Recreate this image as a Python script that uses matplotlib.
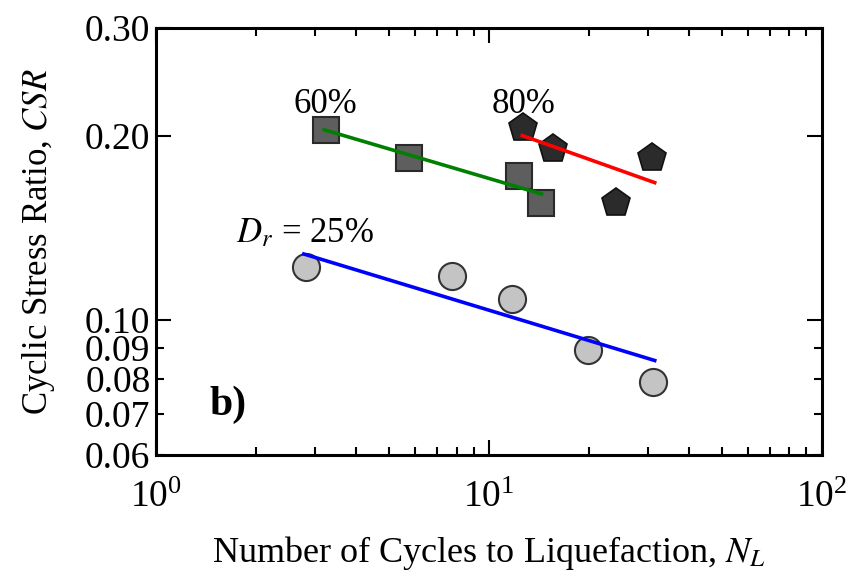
#!/usr/bin/env python3
# Cyclic stress ratio vs number of cycles to liquefaction (log-log)

import matplotlib
matplotlib.use("Agg")
import matplotlib.pyplot as plt
from matplotlib.ticker import FixedLocator, FixedFormatter, NullFormatter

plt.rcParams['font.family'] = ['Liberation Serif', 'DejaVu Serif']
plt.rcParams['mathtext.fontset'] = 'stix'

# Data: Dr = 25 %, 60 %, 80 %
n_25 = [2.82, 7.76, 11.7, 19.9, 31.2]
csr_25 = [0.122, 0.118, 0.108, 0.089, 0.079]
n_60 = [3.25, 5.74, 12.3, 14.3]
csr_60 = [0.204, 0.184, 0.172, 0.155]
n_80 = [12.7, 15.6, 24.1, 31.0]
csr_80 = [0.206, 0.190, 0.155, 0.184]

# trend line end points
fit_25_n = [2.78, 31.5]
fit_25_csr = [0.128, 0.0857]
fit_60_n = [3.20, 14.4]
fit_60_csr = [0.2044, 0.1605]
fit_80_n = [12.6, 31.5]
fit_80_csr = [0.200, 0.1675]

y_major = [0.10, 0.20, 0.30]
y_major_labels = ["0.10", "0.20", "0.30"]
y_minor = [0.06, 0.07, 0.08, 0.09]
y_minor_labels = ["0.06", "0.07", "0.08", "0.09"]

fig = plt.figure(figsize=(8.48, 5.82), dpi=100)
ax = fig.add_axes([0.184, 0.218, 0.785, 0.734])

ax.plot(fit_60_n, fit_60_csr, color='green', lw=2.6, zorder=3)
ax.plot(fit_80_n, fit_80_csr, color='red', lw=2.6, zorder=3)
ax.plot(fit_25_n, fit_25_csr, color='blue', lw=2.6, zorder=3)

ax.plot(n_60, csr_60, 's', ms=19, mfc='#5e5e5e', mec='#2a2a2a', mew=1.5, zorder=2)
ax.plot(n_80, csr_80, 'p', ms=21, mfc='#2b2b2b', mec='#111111', mew=1.2, zorder=2)
ax.plot(n_25, csr_25, 'o', ms=19.5, mfc='#c4c4c4', mec='#333333', mew=1.5, zorder=2)

ax.set_xscale('log')
ax.set_yscale('log')
ax.set_xlim(1, 100)
ax.set_ylim(0.06, 0.30)

ax.yaxis.set_major_locator(FixedLocator(y_major))
ax.yaxis.set_major_formatter(FixedFormatter(y_major_labels))
ax.yaxis.set_minor_locator(FixedLocator(y_minor))
ax.yaxis.set_minor_formatter(FixedFormatter(y_minor_labels))
ax.xaxis.set_minor_formatter(NullFormatter())

ax.tick_params(which='both', direction='in', top=True, right=True, labelsize=27, width=1.5)
ax.tick_params(which='major', length=11)
ax.tick_params(which='minor', length=6)
ax.tick_params(axis='x', which='both', pad=18)
ax.tick_params(axis='y', which='both', pad=4)
for s in ax.spines.values():
    s.set_linewidth(2.2)

ax.text(3.22, 0.2247, "60%", fontsize=25, ha='center', va='center')
ax.text(12.7, 0.2247, "80%", fontsize=25, ha='center', va='center')
ax.text(2.81, 0.1384, "$D_r$ = 25%", fontsize=25, ha='center', va='center')
ax.text(1.64, 0.0725, "b)", fontsize=30, fontweight='bold', ha='center', va='center')

ax.set_xlabel("Number of Cycles to Liquefaction, $N_L$", fontsize=26, labelpad=14)
ax.set_ylabel("Cyclic Stress Ratio, $CSR$", fontsize=25, labelpad=20)

fig.savefig("out.png", dpi=100)
